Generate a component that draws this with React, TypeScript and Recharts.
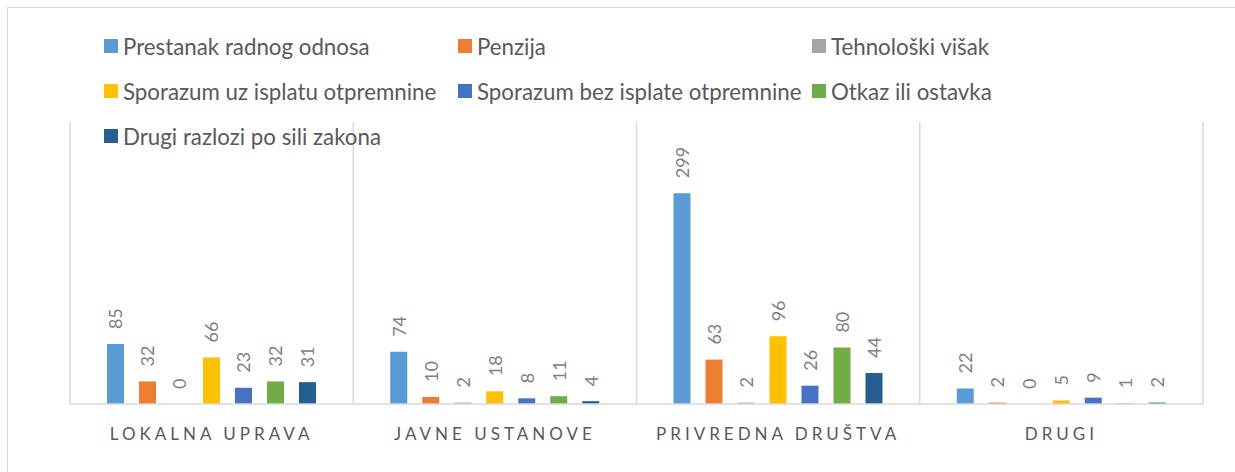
import React from "react";
import { BarChart, Bar, XAxis, YAxis, CartesianGrid, LabelList, Legend } from "recharts";

const FONT = "Lato, 'Open Sans', sans-serif";

const categories = ["LOKALNA UPRAVA", "JAVNE USTANOVE", "PRIVREDNA DRUŠTVA", "DRUGI"];

const seriesNames = [
  "Prestanak radnog odnosa",
  "Penzija",
  "Tehnološki višak",
  "Sporazum uz isplatu otpremnine",
  "Sporazum bez isplate otpremnine",
  "Otkaz ili ostavka",
  "Drugi razlozi po sili zakona",
];
const seriesColors = ["#5B9BD5", "#ED7D31", "#A5A5A5", "#FFC000", "#4472C4", "#70AD47", "#255E91"];

// values per category, in the order of `categories`
const prestanak = [85, 74, 299, 22];
const penzija = [32, 10, 63, 2];
const tehnoloski = [0, 2, 2, 0];
const sporazumUz = [66, 18, 96, 5];
const sporazumBez = [23, 8, 26, 9];
const otkaz = [32, 11, 80, 1];
const drugiRazlozi = [31, 4, 44, 2];

const seriesValues = [prestanak, penzija, tehnoloski, sporazumUz, sporazumBez, otkaz, drugiRazlozi];
const keys = seriesValues.map((_, i) => `s${i}`);

const data = categories.map((name, ci) => {
  const row: Record<string, string | number> = { name };
  seriesValues.forEach((vals, si) => {
    row[keys[si]] = vals[ci];
  });
  return row;
});

const renderValueLabel = (props: any) => {
  const { x, y, width, height, value } = props;
  const cx = Number(x) + Number(width) / 2;
  // label sits above the bar top (y is the top for positive bars)
  const top = Math.min(Number(y), Number(y) + Number(height || 0));
  const ty = top - 15;
  return (
    <text
      x={cx}
      y={ty}
      transform={`rotate(-90 ${cx} ${ty})`}
      textAnchor="start"
      dominantBaseline="central"
      fill="#808080"
      fontSize={18}
      fontFamily={FONT}
    >
      {value}
    </text>
  );
};

const CategoryTick = (props: any) => {
  const { x, y, payload } = props;
  return (
    <text
      x={x}
      y={y + 21}
      textAnchor="middle"
      dominantBaseline="central"
      fill="#595959"
      fontSize={17}
      letterSpacing={4}
      fontFamily={FONT}
    >
      {payload.value}
    </text>
  );
};

const legendColumns = [104, 458, 812];
const legendRows = [46, 91, 136];

const LegendContent = () => (
  <div style={{ position: "relative", width: 1235, height: 150 }}>
    {seriesNames.map((name, i) => (
      <div
        key={name}
        style={{
          position: "absolute",
          left: legendColumns[i % 3],
          top: legendRows[Math.floor(i / 3)] - 13,
          height: 26,
          display: "flex",
          alignItems: "center",
          whiteSpace: "nowrap",
          fontFamily: FONT,
          fontSize: 22.3,
          color: "#595959",
        }}
      >
        <span style={{ width: 14, height: 14, background: seriesColors[i], marginRight: 5, display: "inline-block", flexShrink: 0 }} />
        {name}
      </div>
    ))}
  </div>
);

export default function App() {
  return (
    <div style={{ position: "fixed", left: 0, top: 0, width: 1235, height: 472, overflow: "hidden", background: "#fff" }}>
      <div
        style={{
          position: "absolute",
          left: 7,
          top: 7,
          width: 1260,
          height: 500,
          border: "1px solid #d9d9d9",
          boxSizing: "border-box",
        }}
      />
      <div style={{ position: "absolute", left: 0, top: 0 }}>
        <BarChart
          width={1235}
          height={472}
          data={data}
          margin={{ top: 122, right: 32, bottom: 0, left: 70 }}
          barSize={17}
          barGap={15}
          barCategoryGap={37}
        >
          <CartesianGrid
            horizontal={false}
            vertical
            stroke="#d9d9d9"
            strokeWidth={1.5}
            verticalCoordinatesGenerator={({ offset }: any) =>
              [0, 1, 2, 3, 4].map((i) => offset.left + (i * offset.width) / categories.length)
            }
          />
          <XAxis
            dataKey="name"
            height={68}
            axisLine={{ stroke: "#d9d9d9", strokeWidth: 1.5 }}
            tickLine={false}
            tick={<CategoryTick />}
            interval={0}
          />
          <YAxis hide domain={[0, 400]} />
          <Legend
            layout="vertical"
            align="center"
            verticalAlign="middle"
            wrapperStyle={{ top: 0, left: 0, width: 1235, height: 150 }}
            content={<LegendContent />}
          />
          {keys.map((k, i) => (
            <Bar
              key={k}
              dataKey={k}
              name={seriesNames[i]}
              fill={seriesColors[i]}
              minPointSize={0.01}
              isAnimationActive={false}
            >
              <LabelList dataKey={k} content={renderValueLabel} />
            </Bar>
          ))}
        </BarChart>
      </div>
    </div>
  );
}
